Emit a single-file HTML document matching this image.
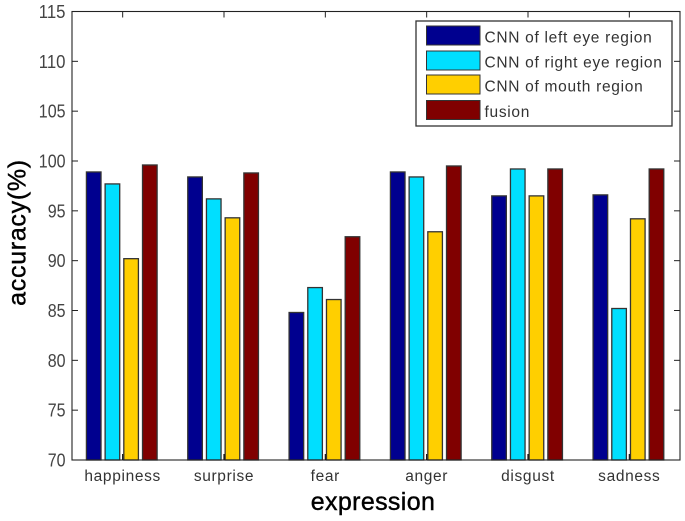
<!DOCTYPE html>
<html>
<head>
<meta charset="utf-8">
<style>
html,body{margin:0;padding:0;background:#fff;width:685px;height:521px;overflow:hidden}
svg{display:block}
text{font-family:"Liberation Sans",Arial,sans-serif}
</style>
</head>
<body>
<svg id="chart" xmlns="http://www.w3.org/2000/svg" width="685" height="521" viewBox="0 0 685 521">
<g id="plot" style="filter:blur(0.35px)"></g>
</svg>
<script>
var categories = ['happiness','surprise','fear','anger','disgust','sadness'];
var seriesNames = ['CNN of left eye region','CNN of right eye region','CNN of mouth region','fusion'];
var leftEye = [98.9,98.4,84.8,98.9,96.5,96.6];
var rightEye = [97.7,96.2,87.3,98.4,99.2,85.2];
var mouth = [90.2,94.3,86.1,92.9,96.5,94.2];
var fusion = [99.6,98.8,92.4,99.5,99.2,99.2];
var yTicks = [70,75,80,85,90,95,100,105,110,115];

var seriesValues = [leftEye,rightEye,mouth,fusion];
var colors = ['#00008f','#00dfff','#ffcf00','#800000'];
var L=72,R=680,T=11.5,B=460;
var NS='http://www.w3.org/2000/svg';
var plot=document.getElementById('plot');
function xScale(i){return L+(i+0.5)*(R-L)/categories.length;}
function yScale(v){return B-(v-yTicks[0])*(B-T)/(yTicks[yTicks.length-1]-yTicks[0]);}
function make(tag,attrs,txt){
  var e=document.createElementNS(NS,tag);
  for(var k in attrs){e.setAttribute(k,attrs[k]);}
  if(txt!==undefined){e.textContent=txt;}
  plot.appendChild(e);
  return e;
}
var barW=14.6,barStep=18.7,el;

seriesValues.forEach(function(vals,s){
  vals.forEach(function(v,i){
    var cx=xScale(i)-0.9+(s-1.5)*barStep;
    el=make('rect',{x:cx-barW/2,y:yScale(v),width:barW,height:B-yScale(v),fill:colors[s],stroke:'#333',"stroke-width":1.3});
    
    
  });
});

el=make('rect',{x:L,y:T,width:R-L,height:B-T,fill:'none',stroke:'#222',"stroke-width":1.1});



yTicks.forEach(function(t){
  var y=yScale(t);
  var label=String(t);
  el=make('line',{x1:L,x2:L+6,y1:y,y2:y,stroke:'#222',"stroke-width":1});
  
  
  el=make('line',{x1:R,x2:R-6,y1:y,y2:y,stroke:'#222',"stroke-width":1});
  
  
  el=make('text',{x:65.5,y:y+6.5,"text-anchor":'end',"font-size":18,textLength:8.9*label.length,lengthAdjust:'spacingAndGlyphs',fill:'#444'},label);
  
  
});

categories.forEach(function(c,i){
  var x=xScale(i);
  el=make('line',{x1:x,x2:x,y1:B,y2:B-6,stroke:'#111',"stroke-width":1.2});
  
  
  el=make('line',{x1:x,x2:x,y1:T,y2:T+6,stroke:'#222',"stroke-width":1});
  
  
  el=make('text',{x:x,y:481,"text-anchor":'middle',"font-size":15.5,"letter-spacing":0.65,fill:'#333'},c);
  
  
});

el=make('rect',{x:416,y:21,width:256,height:105,fill:'#fff',stroke:'#333',"stroke-width":1.3});


var legendY=[35.5,60.5,84.5,110];
seriesNames.forEach(function(n,s){
  el=make('rect',{x:426.5,y:legendY[s]-9.5,width:53.5,height:19,fill:colors[s],stroke:'#333',"stroke-width":1});
  
  
  el=make('text',{x:484.5,y:legendY[s]+7.2,"font-size":15.5,"letter-spacing":0.7,fill:'#333'},n);
  
  
});

el=make('text',{x:373,y:510,"text-anchor":'middle',"font-size":25,"letter-spacing":0.35,fill:'#000',stroke:'#000',"stroke-width":0.4},'expression');


el=make('text',{x:0,y:0,transform:'translate(25.5,232.5) rotate(-90)',"text-anchor":'middle',"font-size":25,"letter-spacing":0.7,fill:'#000',stroke:'#000',"stroke-width":0.4},'accuracy(%)');


</script>
</body>
</html>
